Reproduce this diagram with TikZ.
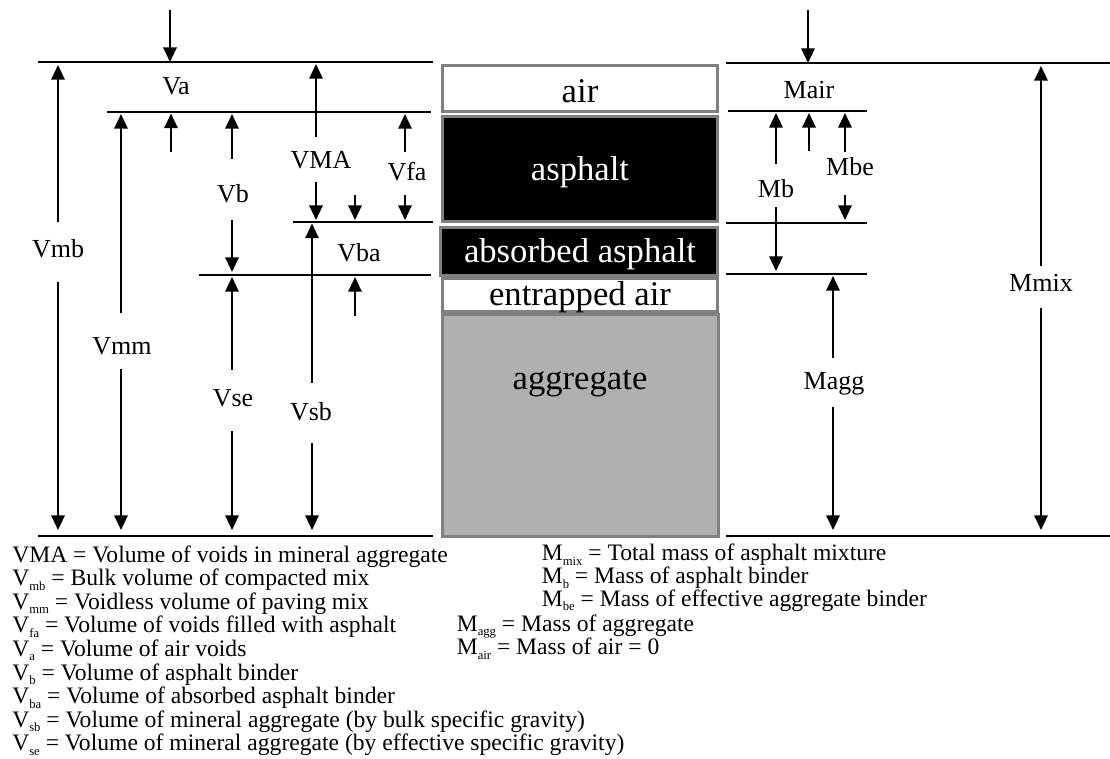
\documentclass[tikz,border=0pt]{standalone}
\usepackage{fontspec}
\setmainfont{Liberation Serif}
\usetikzlibrary{arrows.meta}
\newcommand\lsub[1]{\raisebox{-3.4pt}[0pt][0pt]{\fontsize{9.5}{10}\selectfont #1}}
\begin{document}
\begin{tikzpicture}[x=0.75pt,y=-0.75pt,
  lbl/.style={font=\fontsize{19.5}{22}\selectfont, inner sep=0pt},
  boxtxt/.style={font=\fontsize{26}{30}\selectfont, inner sep=0pt},
  layer/.style={draw=black!50, line width=2.25pt, inner sep=0pt, anchor=center},
  arr/.style={line width=1.6pt, -{Triangle[width=10pt,length=11pt]}},
  hl/.style={line width=2.1pt},
  thl/.style={line width=1.5pt},
  leg/.style={font=\fontsize{17.7}{20}\selectfont, inner sep=0pt, anchor=base west}]
\useasboundingbox (0,0) rectangle (1110,758);

% ---- layer boxes ----
\node[layer, fill=white, minimum width=275*0.75pt, minimum height=46*0.75pt] (air) at (580,88.5) {};
\node[boxtxt] (airt) at (580,91) {air};
\node[layer, fill=black, minimum width=275*0.75pt, minimum height=105*0.75pt] (asph) at (580,169) {};
\node[boxtxt, text=white] (aspht) at (580,172) {asphalt};
\node[layer, fill=black, minimum width=277*0.75pt, minimum height=48*0.75pt] (abs) at (579,251.5) {};
\node[boxtxt, text=white] (abst) at (580,254) {absorbed asphalt};
\node[layer, fill=white, minimum width=275*0.75pt, minimum height=33*0.75pt] (ent) at (580,295) {};
\node[boxtxt] (entt) at (580,297) {entrapped air};
\node[layer, fill=black!31, minimum width=276*0.75pt, minimum height=222*0.75pt] (agg) at (580.5,425.5) {};
\node[boxtxt] (aggt) at (580,383) {aggregate};

% ---- left reference lines ----
\coordinate (L1a) at (38,62);  \coordinate (L1b) at (433,62);
\coordinate (L2a) at (107,112); \coordinate (L2b) at (431,112);
\coordinate (L3a) at (293,222); \coordinate (L3b) at (433,222);
\coordinate (L4a) at (199,275); \coordinate (L4b) at (431,275);
\coordinate (L5a) at (38,536); \coordinate (L5b) at (433,536);
\draw[hl] (L1a) -- (L1b);
\draw[hl] (L2a) -- (L2b);
\draw[thl] (L3a) -- (L3b);
\draw[hl] (L4a) -- (L4b);
\draw[hl] (L5a) -- (L5b);

% ---- right reference lines ----
\coordinate (R1a) at (726,63);  \coordinate (R1b) at (1110,63);
\coordinate (R2a) at (728,111); \coordinate (R2b) at (867,111);
\coordinate (R3a) at (726,223); \coordinate (R3b) at (867,223);
\coordinate (R4a) at (726,274); \coordinate (R4b) at (867,274);
\coordinate (R5a) at (726,536); \coordinate (R5b) at (1110,536);
\draw[hl] (R1a) -- (R1b);
\draw[hl] (R2a) -- (R2b);
\draw[thl] (R3a) -- (R3b);
\draw[hl] (R4a) -- (R4b);
\draw[hl] (R5a) -- (R5b);

% ---- left labels ----
\node[lbl] (Va) at (176,86) {Va};
\node[lbl] (Vmb) at (58,249) {Vmb};
\node[lbl] (Vmm) at (122,346) {Vmm};
\node[lbl] (Vb) at (233,194) {Vb};
\node[lbl] (VMA) at (321,160) {VMA};
\node[lbl] (Vfa) at (407,172) {Vfa};
\node[lbl] (Vba) at (359,253) {Vba};
\node[lbl] (Vse) at (233,398) {Vse};
\node[lbl] (Vsb) at (311,412) {Vsb};

% ---- left arrows ----
\coordinate (topL) at (170,10);
\draw[arr] (topL) -- (topL |- L1a);
\draw[arr] (58,222) -- (58,65);
\draw[arr] (58,282) -- (58,530);
\draw[arr] (121,313) -- (121,114);
\draw[arr] (121,369) -- (121,530);
\coordinate (sa1) at (171,152);
\draw[arr] (sa1) -- (171,113.5);
\draw[arr] (232,159) -- (232,114);
\draw[arr] (232,220) -- (232,272);
\draw[arr] (316,137) -- (316,64);
\draw[arr] (316,182) -- (316,220);
\coordinate (sa2) at (355,195);
\draw[arr] (sa2) -- (355,220);
\draw[arr] (405,152) -- (405,114);
\draw[arr] (405,195) -- (405,220);
\draw[arr] (312,383) -- (312,223.5);
\draw[arr] (312,443) -- (312,530);
\coordinate (sa3) at (355,316);
\draw[arr] (sa3) -- (355,277);
\draw[arr] (232,370) -- (232,277);
\draw[arr] (232,431) -- (232,530);

% ---- right labels ----
\node[lbl] (Mair) at (809,90) {Mair};
\node[lbl] (Mb) at (776,189) {Mb};
\node[lbl] (Mbe) at (850,167) {Mbe};
\node[lbl] (Mmix) at (1041,283) {Mmix};
\node[lbl] (Magg) at (834,384) {Magg};

% ---- right arrows ----
\coordinate (topR) at (808,10);
\draw[arr] (topR) -- (topR |- R1a);
\draw[arr] (776,164) -- (776,113);
\draw[arr] (776,207) -- (776,271);
\coordinate (sa4) at (809,151);
\draw[arr] (sa4) -- (809,113);
\draw[arr] (845,152) -- (845,113);
\draw[arr] (845,195) -- (845,220);
\draw[arr] (1041,266) -- (1041,66);
\draw[arr] (1041,308) -- (1041,530);
\draw[arr] (833,358) -- (833,276);
\draw[arr] (833,407) -- (833,530);

% ---- legend ----
\node[leg] (g1) at (12,562) {VMA = Volume of voids in mineral aggregate};
\node[leg] (g2) at (12,585.6) {V\lsub{mb} = Bulk volume of compacted mix};
\node[leg] (g3) at (12,609.2) {V\lsub{mm} = Voidless volume of paving mix};
\node[leg] (g4) at (12,632.8) {V\lsub{fa} = Volume of voids filled with asphalt};
\node[leg] (g5) at (12,656.4) {V\lsub{a} = Volume of air voids};
\node[leg] (g6) at (12,680) {V\lsub{b} = Volume of asphalt binder};
\node[leg] (g7) at (12,703.6) {V\lsub{ba} = Volume of absorbed asphalt binder};
\node[leg] (g8) at (12,727.2) {V\lsub{sb} = Volume of mineral aggregate (by bulk specific gravity)};
\node[leg] (g9) at (12,750.8) {V\lsub{se} = Volume of mineral aggregate (by effective specific gravity)};
\node[leg] (m1) at (541.5,560.5) {M\lsub{mix} = Total mass of asphalt mixture};
\node[leg] (m2) at (541.5,583.5) {M\lsub{b} = Mass of asphalt binder};
\node[leg] (m3) at (541.5,606) {M\lsub{be} = Mass of effective aggregate binder};
\node[leg] (m4) at (456.5,631) {M\lsub{agg} = Mass of aggregate};
\node[leg] (m5) at (456.5,654.5) {M\lsub{air} = Mass of air = 0};
\end{tikzpicture}
\end{document}
